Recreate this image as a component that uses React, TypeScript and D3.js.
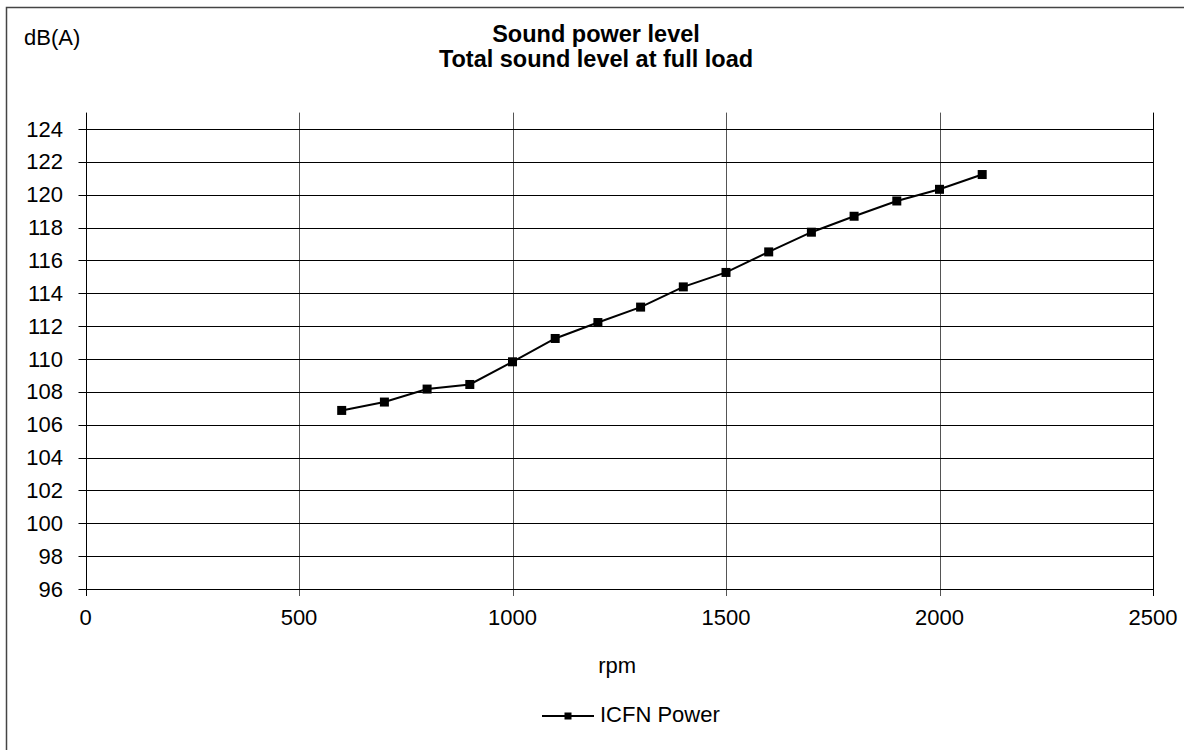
import React from "react";
import * as d3 from "d3";

const rpm = [600, 700, 800, 900, 1000, 1100, 1200, 1300, 1400, 1500, 1600, 1700, 1800, 1900, 2000, 2100];
const power = [106.87, 107.38, 108.17, 108.45, 109.83, 111.25, 112.22, 113.16, 114.39, 115.27, 116.52, 117.72, 118.69, 119.62, 120.33, 121.23];
const xTicks = [0, 500, 1000, 1500, 2000, 2500];
const yTicks = [96, 98, 100, 102, 104, 106, 108, 110, 112, 114, 116, 118, 120, 122, 124];
const titleLines = ["Sound power level", "Total sound level at full load"];
const seriesName = "ICFN Power";

const W = 1184;
const H = 750;
const FONT = "Arial, 'Liberation Sans', sans-serif";

export default function App() {
  const x = d3.scaleLinear().domain([0, 2500]).range([85.5, 1153]);
  const y = d3.scaleLinear().domain([96, 125]).range([589, 112.6]);
  const line = d3
    .line<number>()
    .x((_, i) => x(rpm[i]))
    .y((d) => y(d));
  const left = x(0);
  const right = x(2500);
  const top = y(125);
  const bottom = y(96);
  const ms = 9;
  return (
    <svg
      width={W}
      height={H}
      style={{ position: "absolute", left: 0, top: 0, background: "#fff" }}
      fontFamily={FONT}
    >
      <rect x={0} y={0} width={W} height={H} fill="#fff" />
      <rect x={6.5} y={7.5} width={W + 50} height={H + 50} fill="none" stroke="#444" strokeWidth={1.5} />
      {/* title */}
      {titleLines.map((t, i) => (
        <text key={t} x={596} y={41.5 + i * 25.5} textAnchor="middle" fontSize={23.5} fontWeight="bold" fill="#000">
          {t}
        </text>
      ))}
      <text x={24} y={45} fontSize={22} fill="#000">
        dB(A)
      </text>
      {/* vertical grid lines */}
      {xTicks.map((t) => (
        <line
          key={"vx" + t}
          x1={Math.round(x(t)) + 0.5}
          x2={Math.round(x(t)) + 0.5}
          y1={top}
          y2={bottom + 7}
          stroke={t === 0 || t === 2500 ? "#000" : "#555"}
          strokeWidth={1}
        />
      ))}
      {/* horizontal grid lines */}
      {yTicks.map((t) => (
        <line
          key={"hy" + t}
          x1={left - 7}
          x2={right}
          y1={Math.round(y(t)) + 0.5}
          y2={Math.round(y(t)) + 0.5}
          stroke="#000"
          strokeWidth={1}
        />
      ))}
      {/* y tick labels */}
      {yTicks.map((t) => (
        <text key={"yl" + t} x={63} y={y(t) + 7.6} textAnchor="end" fontSize={22} fill="#000">
          {t}
        </text>
      ))}
      {/* x tick labels */}
      {xTicks.map((t) => (
        <text key={"xl" + t} x={x(t)} y={625} textAnchor="middle" fontSize={22} fill="#000">
          {t}
        </text>
      ))}
      <text x={(left + right) / 2 - 2} y={673} textAnchor="middle" fontSize={22} fill="#000">
        rpm
      </text>
      {/* series */}
      <path d={line(power) || ""} fill="none" stroke="#000" strokeWidth={2} />
      {power.map((v, i) => (
        <rect key={"m" + i} x={x(rpm[i]) - ms / 2} y={y(v) - ms / 2} width={ms} height={ms} fill="#000" />
      ))}
      {/* legend */}
      <line x1={542} x2={594} y1={716} y2={716} stroke="#000" strokeWidth={2} />
      <rect x={568 - 3.5} y={716 - 3.5} width={7} height={7} fill="#000" />
      <text x={600} y={722} fontSize={22} fill="#000">
        {seriesName}
      </text>
    </svg>
  );
}
